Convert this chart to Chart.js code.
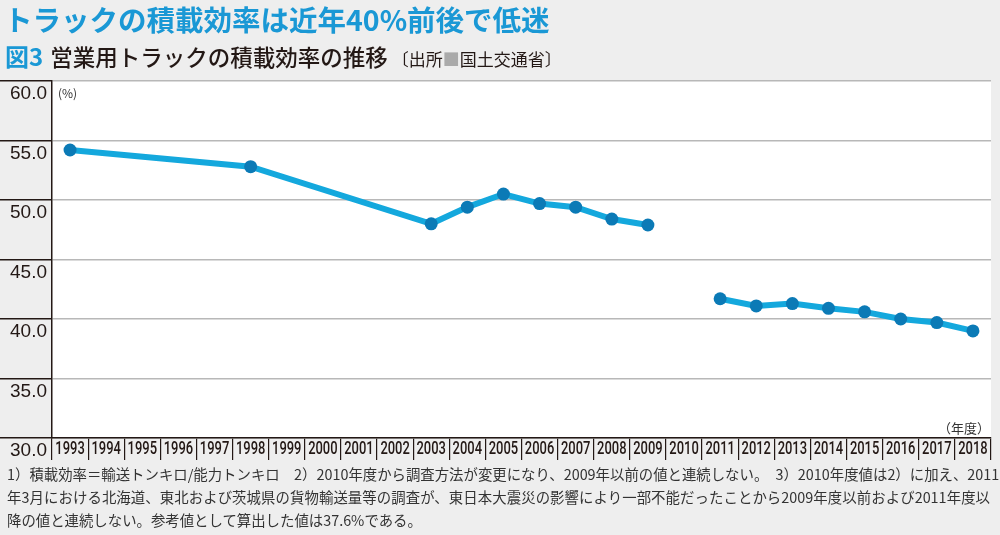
<!DOCTYPE html>
<html>
<head>
<meta charset="utf-8">
<script src="https://cdn.jsdelivr.net/npm/chart.js@4.4.1/dist/chart.umd.min.js"></script>
<style>
  html, body { margin: 0; padding: 0; background: #eeeeee; overflow: hidden; }
  #wrap { position: relative; width: 1000px; height: 535px; }
  #grafico { position: absolute; left: 0; top: 0; }
  .txt { position: absolute; font-family: "Noto Sans CJK JP", sans-serif; white-space: nowrap; }
  #titulo { left: 4px; top: -1px; font-size: 28.5px; font-weight: bold; color: #1a98d5; line-height: 40px; }
  #subtitulo { left: 5px; top: 41px; font-size: 22.5px; font-weight: 500; color: #231815; line-height: 30px; }
  #subtitulo .fig { color: #1a98d5; font-weight: bold; font-size: 24px; margin-right: 7px; }
  #subtitulo .src { font-size: 17px; font-weight: normal; margin-left: 4px; }
  #subtitulo .sq { color: #aaaaaa; }
  .nota { left: 7px; width: 983px; font-size: 14.4px; color: #333333; line-height: 23px; text-align: justify; text-align-last: justify; }
  .nota.last { text-align-last: left; }
</style>
</head>
<body>
<div id="wrap">
  <canvas id="grafico" width="1000" height="535"></canvas>
  <div class="txt" id="titulo">トラックの積載効率は近年40%前後で低迷</div>
  <div class="txt" id="subtitulo"><span class="fig">図3</span>営業用トラックの積載効率の推移<span class="src">〔出所<span class="sq">■</span>国土交通省〕</span></div>
  <div class="txt nota" style="top:462px">1）積載効率＝輸送トンキロ/能力トンキロ　2）2010年度から調査方法が変更になり、2009年以前の値と連続しない。　3）2010年度値は2）に加え、2011</div>
  <div class="txt nota" style="top:485px">年3月における北海道、東北および茨城県の貨物輸送量等の調査が、東日本大震災の影響により一部不能だったことから2009年度以前および2011年度以</div>
  <div class="txt nota last" style="top:508px">降の値と連続しない。参考値として算出した値は37.6%である。</div>
</div>
<script>
// 年度
const years = ['1993', '1994', '1995', '1996', '1997', '1998', '1999', '2000', '2001', '2002',
    '2003', '2004', '2005', '2006', '2007', '2008', '2009', '2010', '2011', '2012',
    '2013', '2014', '2015', '2016', '2017', '2018'];
// 積載効率（%）2009年度以前
const eficienciaHasta2009 = [54.2, null, null, null, null, 52.8, null, null, null, null,
    48.0, 49.4, 50.5, 49.7, 49.4, 48.4, 47.9, null, null, null,
    null, null, null, null, null, null];
// 積載効率（%）2011年度以降
const eficienciaDesde2011 = [null, null, null, null, null, null, null, null, null, null,
    null, null, null, null, null, null, null, null, 41.7, 41.1,
    41.3, 40.9, 40.6, 40.0, 39.7, 39.0];
// 縦軸の目盛
const yTicks = [30, 35, 40, 45, 50, 55, 60];

const colorLinea = '#14a8dd';
const colorPunto = '#0b7ab6';
const colorOscuro = '#231815';

// 背景とラベル
const fondoPlugin = {
    id: 'fondo',
    beforeDraw(chart) {
        const { ctx, chartArea } = chart;
        ctx.save();
        ctx.fillStyle = '#ffffff';
        ctx.fillRect(chartArea.left, chartArea.top, chartArea.right - chartArea.left, chartArea.bottom - chartArea.top);
        ctx.restore();
    },
    afterDraw(chart) {
        const { ctx, chartArea } = chart;
        const xScale = chart.scales.x;
        ctx.save();
        // 年度ラベル（縦長の書体に見せるため横方向に縮める）
        ctx.fillStyle = colorOscuro;
        ctx.font = '500 18.5px Roboto, sans-serif';
        ctx.textAlign = 'center';
        ctx.textBaseline = 'middle';
        xScale.ticks.forEach((t, i) => {
            const x = xScale.getPixelForTick(i);
            ctx.save();
            ctx.translate(x, xScale.top + 11.5);
            ctx.scale(0.7, 1);
            ctx.fillText(chart.data.labels[i], 0, 0);
            ctx.restore();
        });
        ctx.fillStyle = '#333333';
        ctx.font = '12px "Noto Sans CJK JP"';
        ctx.textAlign = 'left';
        ctx.fillText('(%)', chartArea.left + 6, chartArea.top + 12);
        ctx.font = '13px "Noto Sans CJK JP"';
        ctx.textAlign = 'right';
        ctx.fillText('（年度）', chartArea.right - 1, chartArea.bottom - 10);
        ctx.restore();
    }
};

const serie = (data) => ({
    data,
    borderColor: colorLinea,
    borderWidth: 6,
    pointRadius: 6.5,
    pointBackgroundColor: colorPunto,
    pointBorderWidth: 0,
    spanGaps: true,
    tension: 0
});

const ctx = document.getElementById('grafico').getContext('2d');
new Chart(ctx, {
    type: 'line',
    data: {
        labels: years,
        datasets: [serie(eficienciaHasta2009), serie(eficienciaDesde2011)]
    },
    options: {
        responsive: false,
        animation: false,
        layout: { padding: { left: 0, top: 81, right: 9, bottom: 75 } },
        plugins: { legend: { display: false }, tooltip: { enabled: false } },
        scales: {
            x: {
                offset: true,
                grid: { offset: true, drawOnChartArea: false, drawTicks: true, tickLength: 22, tickColor: colorOscuro, lineWidth: 1.2 },
                border: { color: colorOscuro, width: 1.5 },
                ticks: { display: false, autoSkip: false },
                afterFit(scale) { scale.height = 22; }
            },
            y: {
                min: 30,
                max: 60,
                afterBuildTicks(scale) { scale.ticks = yTicks.map(v => ({ value: v })); },
                grid: { color: '#b8b8b8', lineWidth: 1.5, tickLength: 52, tickColor: colorOscuro },
                border: { color: colorOscuro, width: 1.5 },
                ticks: {
                    padding: -47,
                    labelOffset: 13,
                    color: colorOscuro,
                    font: { family: '"Liberation Sans", sans-serif', size: 19 },
                    callback: v => v.toFixed(1)
                },
                afterFit(scale) { scale.width = 52; }
            }
        }
    },
    plugins: [fondoPlugin]
});
</script>
</body>
</html>
